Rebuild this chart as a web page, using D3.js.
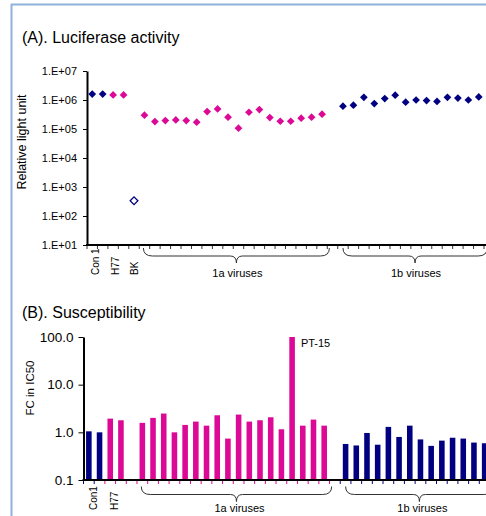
<!DOCTYPE html>
<html>
<head>
<meta charset="utf-8">
<script src="https://cdn.jsdelivr.net/npm/d3@7"></script>
<style>
  body { margin: 0; background: #fff; }
  svg { display: block; font-family: "Liberation Sans", Arial, sans-serif; }
</style>
</head>
<body>
<script>
// samples along the x axis (one empty slot between the 1a and 1b groups)
const samples = [
  "Con1-a", "Con1-b", "H77-a", "H77-b", "BK",
  "1a-01", "1a-02", "1a-03", "1a-04", "1a-05", "1a-06", "1a-07", "1a-08", "1a-09",
  "1a-10", "1a-11", "1a-12", "1a-13", "1a-14", "1a-15", "1a-16", "1a-17", "1a-18",
  "gap",
  "1b-01", "1b-02", "1b-03", "1b-04", "1b-05", "1b-06", "1b-07",
  "1b-08", "1b-09", "1b-10", "1b-11", "1b-12", "1b-13", "1b-14"
]
const genotype = [
  "1b", "1b", "1a", "1a", "bk",
  "1a", "1a", "1a", "1a", "1a", "1a", "1a", "1a", "1a",
  "1a", "1a", "1a", "1a", "1a", "1a", "1a", "1a", "1a",
  null,
  "1b", "1b", "1b", "1b", "1b", "1b", "1b",
  "1b", "1b", "1b", "1b", "1b", "1b", "1b"
]

// (A) relative light units
const luciferase = [
  1.6e6, 1.6e6, 1.5e6, 1.5e6, 335,
  2.98e5, 1.81e5, 1.95e5, 2.05e5, 1.95e5, 1.71e5, 4.0e5, 4.9e5, 2.55e5,
  1.07e5, 3.78e5, 4.69e5, 2.49e5, 1.85e5, 1.85e5, 2.36e5, 2.55e5, 3.23e5,
  null,
  6.1e5, 6.6e5, 1.24e6, 7.55e5, 1.12e6, 1.46e6, 8.4e5,
  1.0e6, 9.6e5, 8.9e5, 1.24e6, 1.17e6, 1.0e6, 1.27e6
]

// (B) fold change in IC50
const foldChange = [
  1.05, 1.0, 1.94, 1.79, null,
  1.58, 2.01, 2.48, 1.0, 1.43, 1.68, 1.38, 2.28, 0.74,
  2.36, 1.68, 1.79, 2.07, 1.16, 120, 1.38, 1.85, 1.38,
  null,
  0.57, 0.53, 0.97, 0.55, 1.30, 0.80, 1.38,
  0.71, 0.52, 0.67, 0.77, 0.74, 0.61, 0.59
]

const lucTicks = [1e1, 1e2, 1e3, 1e4, 1e5, 1e6, 1e7]
const fcTicks = [0.1, 1, 10, 100]

// rotated sample labels: [text, position in sample units]
const labelsA = [["Con 1", 0.35], ["H77", 2.25], ["BK", 4.05]]
const labelsB = [["Con1", 0.4], ["H77", 2.4]]
// braces: [text, from, to] in sample units
const groups = [["1a viruses", 5.4, 23.2], ["1b viruses", 24.5, 38.3]]

const NAVY = "#000080"
const PINK = "#dc0896"
const colorOf = g => g === "1a" ? PINK : NAVY

const W = 486, H = 516
const svg = d3.select("body").append("svg").attr("width", W).attr("height", H)

// slide frame
svg.append("line").attr("x1", 11).attr("x2", W).attr("y1", 4.5).attr("y2", 4.5)
  .attr("stroke", "#8fb2dc").attr("stroke-width", 2)
svg.append("line").attr("x1", 11.5).attr("x2", 11.5).attr("y1", 4).attr("y2", H)
  .attr("stroke", "#8fb2dc").attr("stroke-width", 2)

function brace(g, x1, x2, y0) {
  const xm = (x1 + x2) / 2, yh = y0 + 8, yt = y0 + 15, r = 9, r2 = 6
  g.append("path")
    .attr("d", `M${x1},${y0} Q${x1},${yh} ${x1 + r},${yh} L${xm - r2},${yh} Q${xm},${yh} ${xm},${yt}`
      + ` Q${xm},${yh} ${xm + r2},${yh} L${x2 - r},${yh} Q${x2},${yh} ${x2},${y0}`)
    .attr("fill", "none").attr("stroke", "#333").attr("stroke-width", 1)
}

// ---------- (A) Luciferase activity ----------
const gA = svg.append("g")
gA.append("text").attr("x", 22).attr("y", 43).attr("font-size", 16).text("(A). Luciferase activity")

const xA = d3.scaleBand().domain(samples).range([87, 484])
const yA = d3.scaleLog().domain([10, 1e7]).range([245, 71])
const stepA = xA.step()
const posA = i => 87 + i * stepA

gA.append("g").attr("transform", "translate(87,0)")
  .call(d3.axisLeft(yA).tickValues(lucTicks).tickSize(4).tickSizeOuter(0).tickPadding(6)
    .tickFormat(d => "1.E+0" + Math.round(Math.log10(d))))
  .call(g => g.select(".domain").attr("stroke-width", 2))
  .call(g => g.selectAll("text").attr("font-size", 11).attr("font-family", "Liberation Sans, Arial"))

gA.append("line").attr("x1", 86).attr("x2", W).attr("y1", 245).attr("y2", 245)
  .attr("stroke", "#000").attr("stroke-width", 2)
gA.append("g").selectAll("line").data(d3.range(samples.length + 1)).join("line")
  .attr("x1", posA).attr("x2", posA).attr("y1", 245).attr("y2", 249)
  .attr("stroke", "#000").attr("stroke-width", 0.8)

gA.append("text").attr("transform", "translate(22,142) rotate(-90)")
  .attr("text-anchor", "middle").attr("dy", "0.35em").attr("font-size", 12.5)
  .text("Relative light unit")

const diamond = d3.symbol(d3.symbolSquare, 30)
gA.append("g").selectAll("path")
  .data(samples.map((s, i) => ({ s, v: luciferase[i], g: genotype[i] })).filter(d => d.v != null))
  .join("path")
  .attr("d", diamond)
  .attr("transform", d => `translate(${xA(d.s) + xA.bandwidth() / 2},${yA(d.v)}) rotate(45)`)
  .attr("fill", d => d.g === "bk" ? "#fff" : colorOf(d.g))
  .attr("stroke", d => d.g === "bk" ? NAVY : "none")
  .attr("stroke-width", 1.3)

gA.append("g").selectAll("text").data(labelsA).join("text")
  .attr("transform", d => `translate(${posA(d[1] + 0.5)},275) rotate(-90)`)
  .attr("dy", "0.35em").attr("font-size", 10).text(d => d[0])

groups.forEach(([t, a, b]) => {
  brace(gA, posA(a), posA(b), 248)
  const xm = (posA(a) + posA(b)) / 2
  gA.append("text").attr("x", xm + 1).attr("y", 276.5).attr("text-anchor", "middle")
    .attr("font-size", 11).text(t)
})

// ---------- (B) Susceptibility ----------
const gB = svg.append("g")
gB.append("text").attr("x", 22).attr("y", 318).attr("font-size", 16).text("(B). Susceptibility")

const xB = d3.scaleBand().domain(samples).range([83.5, 490]).paddingInner(0.48).paddingOuter(0.24)
const yB = d3.scaleLog().domain([0.1, 100]).range([480, 337]).clamp(true)
const stepB = xB.step()
const posB = i => 83.5 + i * stepB

gB.append("g").selectAll("rect")
  .data(samples.map((s, i) => ({ s, v: foldChange[i], g: genotype[i] })).filter(d => d.v != null))
  .join("rect")
  .attr("x", d => xB(d.s)).attr("width", xB.bandwidth())
  .attr("y", d => yB(d.v)).attr("height", d => 480 - yB(d.v))
  .attr("fill", d => colorOf(d.g))

gB.append("g").attr("transform", "translate(83.5,0)")
  .call(d3.axisLeft(yB).tickValues(fcTicks).tickSize(5).tickSizeOuter(0).tickPadding(5)
    .tickFormat(d3.format(".1f")))
  .call(g => g.select(".domain").attr("stroke-width", 2))
  .call(g => g.selectAll("text").attr("font-size", 13.5).attr("font-family", "Liberation Sans, Arial"))

gB.append("line").attr("x1", 82.5).attr("x2", W).attr("y1", 480).attr("y2", 480)
  .attr("stroke", "#000").attr("stroke-width", 2)
gB.append("g").selectAll("line").data(d3.range(samples.length + 1)).join("line")
  .attr("x1", posB).attr("x2", posB).attr("y1", 481).attr("y2", 484)
  .attr("stroke", k => (k < 2 || k >= 24) ? NAVY : PINK).attr("stroke-width", 1)

gB.append("text").attr("transform", "translate(30,388) rotate(-90)")
  .attr("text-anchor", "middle").attr("dy", "0.35em").attr("font-size", 11.5)
  .text("FC in IC50")

gB.append("text").attr("x", xB("1a-15") + xB.bandwidth() + 6).attr("y", 347)
  .attr("font-size", 11).text("PT-15")

gB.append("g").selectAll("text").data(labelsB).join("text")
  .attr("transform", d => `translate(${posB(d[1] + 0.5)},510) rotate(-90)`)
  .attr("dy", "0.35em").attr("font-size", 10).text(d => d[0])

groups.forEach(([t, a, b]) => {
  brace(gB, posB(a), posB(b), 486.5)
  const xm = (posB(a) + posB(b)) / 2
  gB.append("text").attr("x", xm + 3).attr("y", 512).attr("text-anchor", "middle")
    .attr("font-size", 11).text(t)
})
</script>
</body>
</html>
